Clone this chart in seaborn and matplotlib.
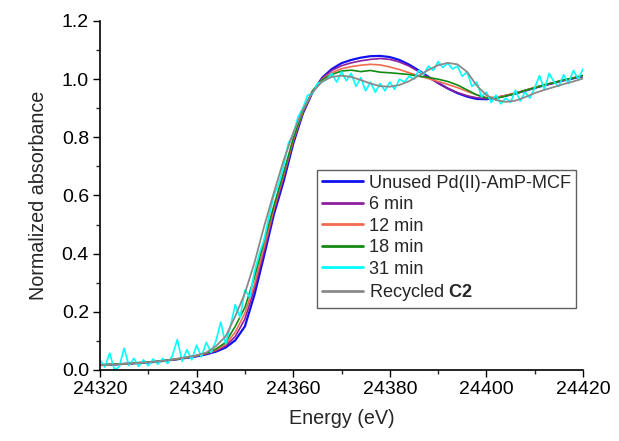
import numpy as np
import pandas as pd
import matplotlib
matplotlib.use("Agg")
import matplotlib.pyplot as plt
import seaborn as sns

# ---- data ----
energy = list(range(24320, 24421, 2))          # smooth scans, 2 eV grid
energy_31 = list(range(24320, 24421, 1))       # noisy 31 min scan, 1 eV grid

unused = [0.017, 0.018, 0.020, 0.022, 0.024, 0.026, 0.029, 0.033, 0.037, 0.042,
          0.047, 0.054, 0.063, 0.077, 0.102, 0.150, 0.260, 0.395, 0.535, 0.648,
          0.778, 0.882, 0.955, 1.005, 1.035, 1.055, 1.066, 1.074, 1.079, 1.080,
          1.076, 1.066, 1.050, 1.030, 1.008, 0.987, 0.968, 0.952, 0.940, 0.932,
          0.931, 0.936, 0.943, 0.951, 0.960, 0.970, 0.979, 0.987, 0.996, 1.003,
          1.010]
min6 = [0.017, 0.018, 0.020, 0.022, 0.024, 0.026, 0.029, 0.033, 0.037, 0.042,
        0.048, 0.056, 0.066, 0.082, 0.115, 0.175, 0.280, 0.410, 0.545, 0.660,
        0.785, 0.885, 0.957, 1.003, 1.030, 1.046, 1.056, 1.063, 1.068, 1.071,
        1.068, 1.059, 1.045, 1.026, 1.006, 0.986, 0.968, 0.954, 0.943, 0.936,
        0.933, 0.936, 0.943, 0.951, 0.960, 0.970, 0.979, 0.987, 0.996, 1.003,
        1.010]
min12 = [0.018, 0.019, 0.020, 0.022, 0.025, 0.027, 0.030, 0.033, 0.038, 0.043,
         0.049, 0.057, 0.069, 0.088, 0.130, 0.195, 0.295, 0.425, 0.555, 0.670,
         0.790, 0.888, 0.958, 1.000, 1.022, 1.036, 1.043, 1.048, 1.051, 1.049,
         1.042, 1.033, 1.022, 1.012, 1.002, 0.992, 0.982, 0.971, 0.958, 0.946,
         0.937, 0.938, 0.944, 0.953, 0.961, 0.972, 0.980, 0.989, 0.997, 1.005,
         1.012]
min18 = [0.018, 0.019, 0.021, 0.022, 0.025, 0.027, 0.030, 0.034, 0.038, 0.043,
         0.050, 0.058, 0.072, 0.095, 0.150, 0.215, 0.320, 0.445, 0.565, 0.678,
         0.795, 0.890, 0.960, 0.998, 1.016, 1.028, 1.031, 1.026, 1.030, 1.024,
         1.022, 1.019, 1.016, 1.010, 1.006, 1.000, 0.992, 0.980, 0.963, 0.946,
         0.935, 0.934, 0.942, 0.950, 0.962, 0.970, 0.981, 0.988, 0.998, 1.004,
         1.013]
min31 = [0.035, 0.010, 0.058, 0.000, 0.012, 0.075, 0.015, 0.040, 0.012, 0.035,
         0.015, 0.038, 0.020, 0.040, 0.022, 0.050, 0.105, 0.030, 0.070, 0.035,
         0.085, 0.045, 0.095, 0.060, 0.100, 0.165, 0.090, 0.150, 0.225, 0.180,
         0.275, 0.250, 0.340, 0.400, 0.450, 0.530, 0.600, 0.640, 0.700, 0.780,
         0.810, 0.870, 0.900, 0.945, 0.950, 0.985, 0.990, 1.000, 1.020, 0.990,
         1.025, 0.995, 1.020, 0.975, 1.005, 0.960, 0.990, 0.955, 0.985, 0.960,
         0.990, 0.965, 1.000, 0.990, 1.010, 1.000, 1.030, 1.015, 1.045, 1.030,
         1.060, 1.040, 1.055, 1.035, 1.045, 1.010, 1.025, 0.975, 0.990, 0.940,
         0.955, 0.920, 0.945, 0.915, 0.935, 0.920, 0.962, 0.925, 0.955, 0.935,
         0.970, 1.012, 0.965, 1.020, 0.990, 0.975, 1.015, 0.985, 1.030, 1.000,
         1.035]
recycled = [0.017, 0.018, 0.020, 0.022, 0.024, 0.027, 0.030, 0.034, 0.039, 0.044,
            0.050, 0.060, 0.082, 0.115, 0.185, 0.264, 0.370, 0.495, 0.610, 0.720,
            0.815, 0.895, 0.955, 0.992, 1.008, 1.012, 1.008, 0.997, 0.985, 0.976,
            0.974, 0.980, 0.993, 1.012, 1.032, 1.048, 1.056, 1.051, 1.025, 0.978,
            0.945, 0.928, 0.922, 0.926, 0.938, 0.952, 0.963, 0.973, 0.983, 0.992,
            1.002]

series_names = ["Unused Pd(II)-AmP-MCF", "6 min", "12 min", "18 min", "31 min",
                r"Recycled $\mathbf{C2}$"]
x_ticks = [24320, 24340, 24360, 24380, 24400, 24420]
y_ticks = [0.0, 0.2, 0.4, 0.6, 0.8, 1.0, 1.2]

# ---- styling ----
sns.set_style("ticks")
plt.rcParams["font.family"] = ["Liberation Sans", "DejaVu Sans"]
plt.rcParams["mathtext.fontset"] = "custom"
plt.rcParams["mathtext.rm"] = "Liberation Sans"
plt.rcParams["mathtext.bf"] = "Liberation Sans:bold"

fig = plt.figure(figsize=(6.19, 4.41), dpi=100)
ax = fig.add_axes([100 / 619, 71 / 441, 483 / 619, 349 / 441])

data = [
    (energy, unused, "#1010f0", 1.6),
    (energy, min6, "#8e1f9e", 1.2),
    (energy, min12, "#f26a4f", 1.2),
    (energy, min18, "#138a13", 1.2),
    (energy_31, min31, "#00ffff", 1.2),
    (energy, recycled, "#8a8a8a", 1.3),
]
for (xs, ys, col, lw), name in zip(data, series_names):
    df = pd.DataFrame({"Energy": xs, "Abs": ys})
    sns.lineplot(data=df, x="Energy", y="Abs", ax=ax, color=col, linewidth=lw,
                 label=name, estimator=None, sort=False)

ax.set_xlim(24320, 24420)
ax.set_ylim(0.0, 1.2)
ax.set_xticks(x_ticks)
ax.set_yticks(y_ticks)
ax.set_xticklabels([str(t) for t in x_ticks])
ax.set_yticklabels([f"{t:.1f}" for t in y_ticks])
ax.xaxis.set_minor_locator(matplotlib.ticker.MultipleLocator(10))
ax.yaxis.set_minor_locator(matplotlib.ticker.MultipleLocator(0.1))
ax.tick_params(which="major", direction="out", length=5, width=1.0,
               labelsize=14, colors="black", pad=3)
ax.tick_params(which="minor", direction="out", length=3, width=1.0)
sns.despine(ax=ax)
for sp in ("left", "bottom"):
    ax.spines[sp].set_linewidth(1.2)
    ax.spines[sp].set_color("black")

ax.set_xlabel("Energy (eV)", fontsize=14.2, labelpad=8)
ax.set_ylabel("Normalized absorbance", fontsize=14.2, labelpad=10)

leg = ax.legend(loc="upper left", bbox_to_anchor=(317 / 619, 1 - 170 / 441),
                bbox_transform=fig.transFigure, fontsize=13.1, frameon=True,
                fancybox=False, edgecolor="#606060", framealpha=1,
                borderaxespad=0, labelspacing=0.25, handlelength=2.3,
                handletextpad=0.3, borderpad=0.25)
leg.get_frame().set_linewidth(1.0)
for line in leg.get_lines():
    line.set_linewidth(2.0)

fig.savefig("out.png", dpi=100)
